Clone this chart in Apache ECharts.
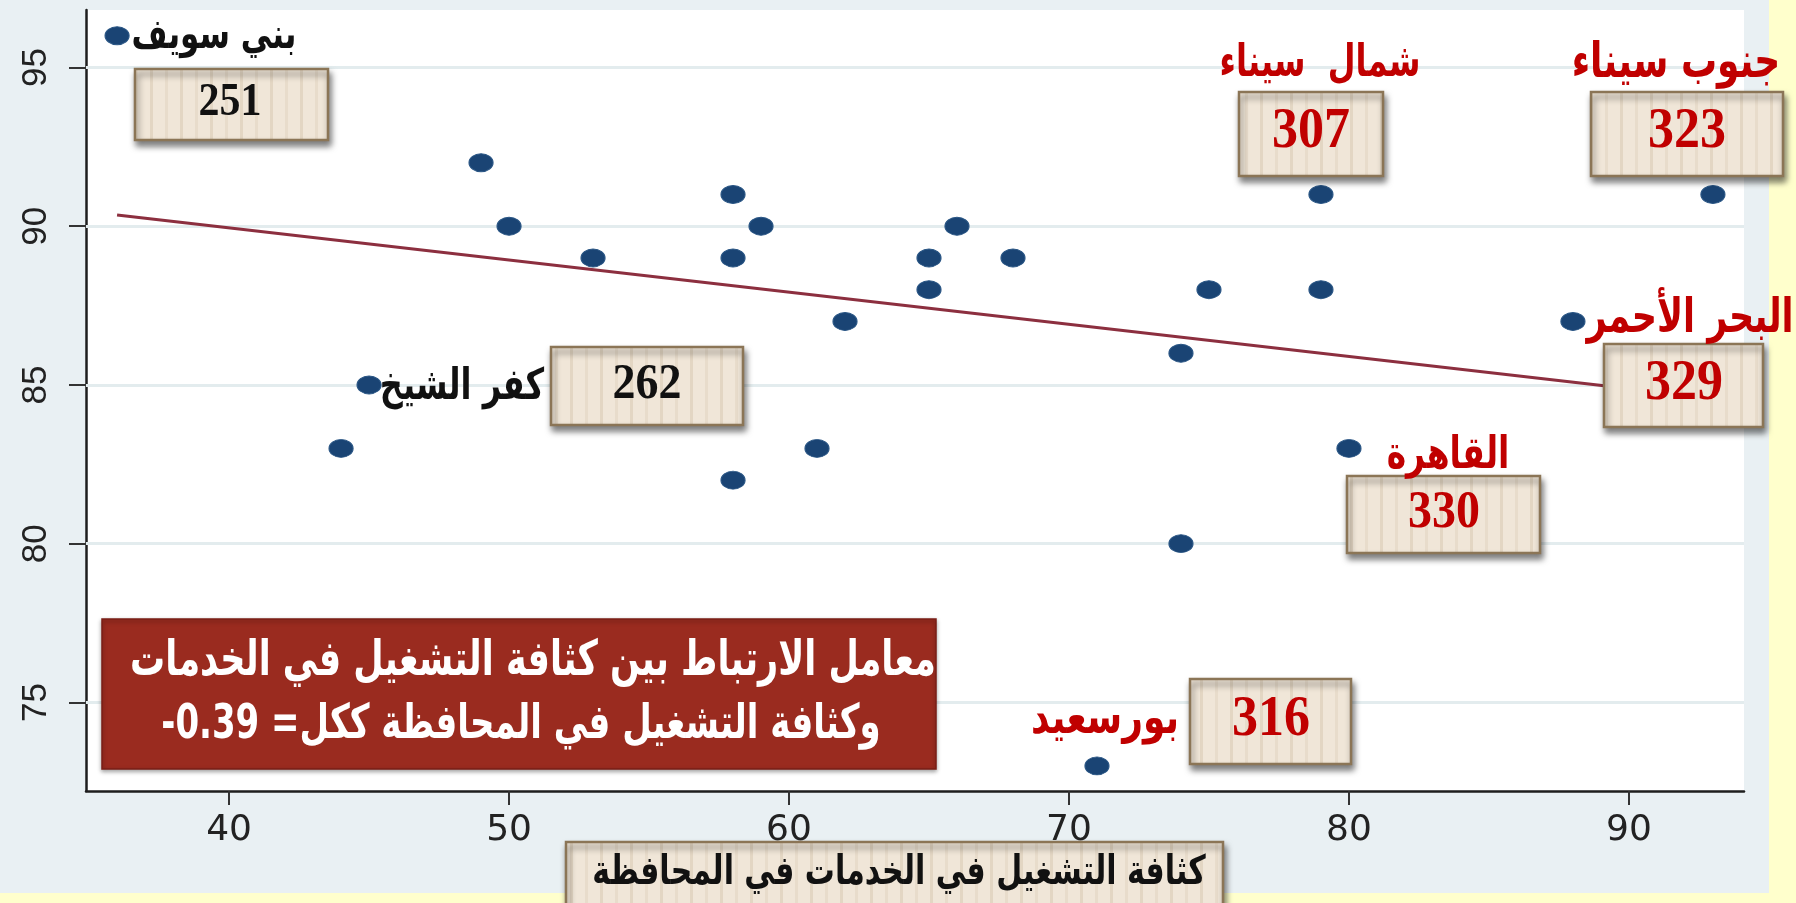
<!DOCTYPE html>
<html>
<head>
<meta charset="utf-8">
<script src="https://cdn.jsdelivr.net/npm/echarts@6/dist/echarts.min.js"></script>
<style>
html,body{margin:0;padding:0;background:#ffffcc;}
#chart{width:1796px;height:903px;}
</style>
</head>
<body>
<div id="chart"></div>
<script>
// ---- data ----
const xs = [36, 43, 49, 50, 53, 58, 58, 59, 62, 65, 65, 66, 68, 74, 75, 79, 79, 80, 88, 93, 45, 44, 58, 61, 74, 71];
const ys = [96, 93, 92, 90, 89, 91, 89, 90, 87, 89, 88, 90, 89, 86, 88, 91, 88, 83, 87, 91, 85, 83, 82, 83, 80, 73];
const fitX = [36, 93];
const fitY = [90.35, 84.58];
const xTicks = [40, 50, 60, 70, 80, 90];
const yTicks = [75, 80, 85, 90, 95];
const names = ['بني سويف', 'كفر الشيخ', 'شمال  سيناء', 'جنوب سيناء', 'البحر الأحمر', 'القاهرة', 'بورسعيد'];
const ranks = ['251', '262', '307', '323', '329', '330', '316'];
const noteLine1 = 'معامل الارتباط بين كثافة التشغيل في الخدمات';
const noteLine2 = 'وكثافة التشغيل في المحافظة ككل= 0.39-';
const xTitle = 'كثافة التشغيل في الخدمات في المحافظة';

// ---- striped beige pattern ----
const pc = document.createElement('canvas');
pc.width = 30; pc.height = 10;
const g = pc.getContext('2d');
g.fillStyle = '#f0e6d8'; g.fillRect(0, 0, 30, 10);
g.fillStyle = '#e3d6c3'; g.fillRect(0, 0, 3, 10);
g.fillStyle = '#e8dccb'; g.fillRect(15, 0, 3, 10);

const RED = '#c00000';
const AR = '"DejaVu Sans", sans-serif';
const NUM = '"Liberation Serif", "Times New Roman", serif';

function box(x, y, w, h) {
  return {
    type: 'rect', z: 50, silent: true,
    shape: { x: x, y: y, width: w, height: h },
    style: {
      fill: { image: pc, repeat: 'repeat' },
      stroke: '#8b7556', lineWidth: 2.5,
      shadowBlur: 6, shadowOffsetX: 2, shadowOffsetY: 5, shadowColor: 'rgba(0,0,0,0.5)'
    }
  };
}
function txt(s, x, y, size, color, family, sy) {
  return {
    type: 'text', z: 60, silent: true, x: x, y: y, scaleY: sy || 1,
    style: {
      text: s, fill: color, align: 'center', verticalAlign: 'middle',
      font: 'bold ' + size + 'px ' + family
    }
  };
}

const graphics = [
  { type: 'rect', z: -100, silent: true, shape: { x: 0, y: 0, width: 1769, height: 893 }, style: { fill: '#e9f0f3' } },
  // rank boxes
  box(135, 69, 193, 71), txt(ranks[0], 230, 103, 42, '#111', NUM, 1.08),
  box(551, 347, 192, 78), txt(ranks[1], 647, 385, 46, '#111', NUM, 1.08),
  box(1239, 92, 144, 84), txt(ranks[2], 1311, 132, 52, RED, NUM, 1.1),
  box(1591, 92, 192, 84), txt(ranks[3], 1687, 132, 52, RED, NUM, 1.1),
  box(1604, 344, 159, 83), txt(ranks[4], 1684, 384, 52, RED, NUM, 1.1),
  box(1347, 476, 193, 77), txt(ranks[5], 1444, 513, 48, RED, NUM, 1.1),
  box(1190, 679, 161, 85), txt(ranks[6], 1271, 720, 52, RED, NUM, 1.1),
  // governorate names
  txt(names[0], 214, 37, 31, '#111', AR, 1.35),
  txt(names[1], 462, 388, 32, '#111', AR, 1.35),
  txt(names[2], 1320, 64, 32, RED, AR, 1.4),
  txt(names[3], 1676, 64, 36, RED, AR, 1.35),
  txt(names[4], 1690, 320, 35, RED, AR, 1.35),
  txt(names[5], 1448, 456, 33, RED, AR, 1.35),
  txt(names[6], 1105, 721, 36, RED, AR, 1.3),
  // correlation note
  { type: 'rect', z: 50, silent: true, shape: { x: 102, y: 619, width: 834, height: 150 },
    style: { fill: '#9a2b1f', stroke: '#7a1e16', lineWidth: 1.5, shadowBlur: 4, shadowOffsetY: 2, shadowColor: 'rgba(0,0,0,0.35)' } },
  txt(noteLine1, 533, 662, 35, '#ffffff', AR, 1.4),
  txt('\u202B' + noteLine2 + '\u202C', 521, 726, 34, '#ffffff', AR, 1.4),
  // x axis title box
  box(566, 842, 657, 80), txt(xTitle, 899, 873, 30, '#111', AR, 1.35)
];

const chart = echarts.init(document.getElementById('chart'), null, { renderer: 'canvas' });
chart.setOption({
  backgroundColor: 'transparent',
  animation: false,
  grid: { left: 86, right: 52, top: 10, bottom: 112, show: true, backgroundColor: '#ffffff', borderWidth: 0 },
  xAxis: {
    type: 'value', min: 34.89, max: 94.11,
    axisLine: { show: true, onZero: false, lineStyle: { color: '#1e1e1e', width: 2.5 } },
    axisTick: { show: true, length: 14, customValues: xTicks, lineStyle: { color: '#333', width: 2 } },
    axisLabel: { customValues: xTicks, margin: 22, color: '#222', fontSize: 36, fontFamily: 'DejaVu Sans' },
    splitLine: { show: false }
  },
  yAxis: {
    type: 'value', min: 72.21, max: 96.81,
    axisLine: { show: true, onZero: false, lineStyle: { color: '#1e1e1e', width: 2.5 } },
    axisTick: { show: true, length: 17, customValues: yTicks, lineStyle: { color: '#333', width: 2 } },
    axisLabel: { customValues: yTicks, rotate: 90, margin: 32, color: '#222', fontSize: 35, fontFamily: 'Liberation Sans' },
    splitLine: { show: false }
  },
  series: [
    {
      type: 'line', z: 2, silent: true, showSymbol: false,
      data: fitX.map((x, i) => [x, fitY[i]]),
      lineStyle: { color: '#8c2f3f', width: 3 },
      markLine: {
        z: 1, silent: true, symbol: 'none', label: { show: false },
        lineStyle: { color: '#e3ecee', width: 3, type: 'solid' },
        data: yTicks.map(v => ({ yAxis: v }))
      }
    },
    {
      type: 'scatter', z: 3, silent: true,
      symbol: 'circle', symbolSize: [24, 18],
      itemStyle: { color: '#1a4474', borderColor: '#2a5685', borderWidth: 1, opacity: 1 },
      data: xs.map((x, i) => [x, ys[i]])
    }
  ],
  graphic: { elements: graphics }
});
</script>
</body>
</html>
